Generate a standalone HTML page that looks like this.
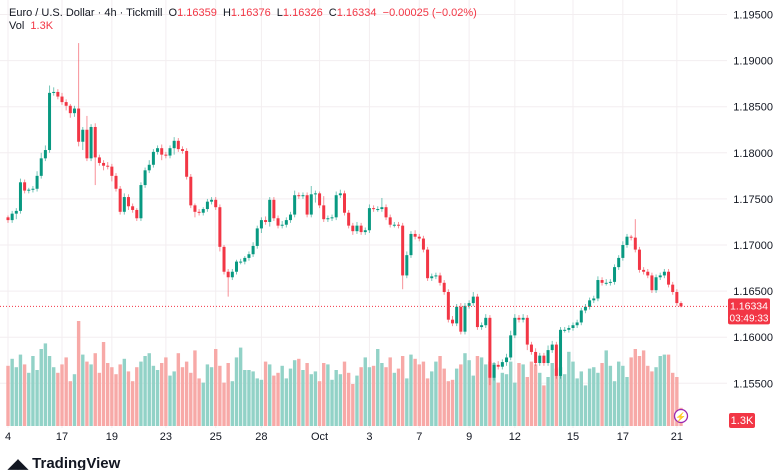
<!DOCTYPE html>
<html><head><meta charset="utf-8"><style>
body{margin:0;background:#fff;font-family:"Liberation Sans",sans-serif;}
#wrap{position:relative;width:780px;height:470px;overflow:hidden;background:#fff}
.t{position:absolute;font-size:11px;color:#131722;white-space:nowrap}
</style></head><body>
<div id="wrap">
<svg id="chart" width="780" height="470" style="position:absolute;left:0;top:0"></svg>
<div class="t" style="left:9px;top:7px">Euro / U.S. Dollar · 4h · Tickmill &nbsp;O<span style="color:#f23645">1.16359</span> &nbsp;H<span style="color:#f23645">1.16376</span> &nbsp;L<span style="color:#f23645">1.16326</span> &nbsp;C<span style="color:#f23645">1.16334</span> &nbsp;<span style="color:#f23645">−0.00025 (−0.02%)</span></div>
<div class="t" style="left:9px;top:20px">Vol &nbsp;<span style="color:#f23645">1.3K</span></div>
<div class="t" style="left:8px;top:455px;font-size:15px;font-weight:bold;color:#131722"><span style="font-size:13px">◢◣</span> TradingView</div>
</div>
<script>
const closes=[1.1727,1.1734,1.1737,1.1768,1.1759,1.1760,1.1761,1.1775,1.1794,1.1803,
1.1865,1.1866,1.1861,1.1855,1.1851,1.1843,1.1848,1.1812,1.1825,1.1794,
1.1828,1.1795,1.1789,1.1786,1.1785,1.1775,1.1761,1.1736,1.1752,1.1742,
1.1738,1.1729,1.1765,1.1781,1.1787,1.1801,1.1805,1.1798,1.1797,1.1805,
1.1813,1.1804,1.1802,1.1774,1.1743,1.1736,1.1735,1.1739,1.1747,1.1749,
1.1741,1.1698,1.1671,1.1665,1.1671,1.1682,1.1682,1.1686,1.1690,1.1699,
1.1718,1.1727,1.1725,1.1749,1.1729,1.1721,1.1722,1.1727,1.1733,1.1754,
1.1753,1.1754,1.1733,1.1755,1.1756,1.1743,1.1728,1.1729,1.1730,1.1754,
1.1756,1.1735,1.1721,1.1715,1.1721,1.1714,1.1716,1.1740,1.1739,1.1739,
1.1741,1.1730,1.1722,1.1722,1.1721,1.1667,1.1689,1.1712,1.1709,1.1707,
1.1695,1.1664,1.1666,1.1667,1.1659,1.1649,1.1619,1.1615,1.1633,1.1606,
1.1634,1.1637,1.1644,1.1611,1.1613,1.1621,1.1556,1.1570,1.1568,1.1573,
1.1578,1.1602,1.1621,1.1619,1.1621,1.1592,1.1584,1.1572,1.1580,1.1572,
1.1586,1.1592,1.1558,1.1608,1.1608,1.1610,1.1613,1.1616,1.1629,1.1633,
1.1640,1.1642,1.1662,1.1659,1.1659,1.1660,1.1676,1.1686,1.1700,1.1709,
1.1708,1.1695,1.1673,1.1671,1.1667,1.1651,1.1665,1.1667,1.1671,1.1657,
1.1649,1.1637,1.16334];
const firstOpen=1.1730;
const wickUp=[2,3,3,4,3,2,3,5,6,5, 8,5,3,4,3,2,3,71,3,15, 3,4,3,3,4,3,3,3,4,3, 3,2,3,3,5,3,3,4,3,3, 4,3,3,3,3,2,3,2,3,3, 3,3,2,3,3,2,3,2,3,4, 3,3,4,3,3,3,4,3,3,5, 3,3,3,9,3,2,10,3,3,4, 4,3,3,3,4,3,3,4,3,3, 10,3,3,3,3,3,4,3,4,3, 3,3,3,3,3,3,3,4,3,4, 3,3,5,3,3,4,3,3,4,3, 4,5,4,3,4,3,3,4,3,3, 5,4,3,3,3,3,3,3,3,3, 3,3,4,3,4,3,3,3,4,3, 2,20,3,3,3,3,3,3,3,3, 3,3,2];
const wickDn=[3,3,6,3,3,3,3,3,3,3, 3,3,3,3,5,5,4,5,9,3, 3,30,3,5,3,6,3,3,3,4, 3,3,3,3,3,3,3,6,3,3, 7,3,3,3,3,6,3,3,3,3, 3,5,3,21,3,3,3,3,3,3, 3,5,3,5,3,3,3,3,3,3, 3,3,3,3,9,3,3,3,3,3, 3,3,3,4,3,3,3,3,3,3, 3,3,3,3,3,15,3,3,3,3, 3,3,3,3,3,3,3,3,3,3, 3,3,3,3,3,3,8,3,3,3, 4,3,3,3,3,6,3,3,3,3, 3,3,3,3,3,3,3,3,3,3, 3,3,3,3,3,3,3,3,3,3, 3,3,3,3,3,3,3,3,3,3, 3,3,1];
const volumes=[4.3,4.8,4.2,5.1,4.4,3.8,5.0,4.0,5.5,5.9, 5.0,4.2,3.8,4.4,4.9,3.2,3.7,7.5,5.1,4.6, 4.4,5.2,3.8,6.0,4.5,4.2,3.7,4.4,4.8,3.9, 3.2,4.2,4.6,5.0,5.2,4.3,4.0,4.5,4.9,3.6, 3.9,5.2,4.2,4.6,3.8,5.4,3.4,3.1,4.4,4.2, 5.5,4.3,3.1,4.5,3.2,4.9,5.6,4.0,4.0,3.9, 3.4,3.3,4.6,4.4,3.6,3.8,4.3,3.4,4.1,4.7, 4.8,4.0,4.5,3.7,3.9,3.2,4.5,4.4,3.3,4.0, 3.7,4.6,3.8,3.0,3.6,4.2,4.9,4.2,4.3,5.5, 4.5,4.2,4.9,3.8,4.1,5.0,3.4,5.1,4.8,4.4, 4.6,3.4,3.9,4.6,5.0,4.1,3.2,3.3,4.1,4.4, 5.2,4.7,3.6,5.0,4.9,4.4,4.6,4.5,3.1,3.8, 3.7,4.6,3.1,4.5,4.4,3.5,4.6,4.4,3.8,2.9, 3.5,4.5,4.1,4.2,3.7,5.3,4.6,3.4,3.9,2.9, 4.1,4.2,3.8,4.5,5.4,4.3,3.2,4.6,4.3,3.5, 4.9,5.5,5.0,5.4,4.3,3.9,4.2,5.0,5.1,5.1, 3.8,3.5,1.3];
const priceTicks=[1.195,1.19,1.185,1.18,1.175,1.17,1.165,1.16,1.155];
const dateLabels=["4","17","19","23","25","28","Oct","3","7","9","12","15","17","21"];
const dateIndex=[0,13,25,38,50,61,75,87,99,111,122,136,148,161];

const svg=document.getElementById('chart');
const NS='http://www.w3.org/2000/svg';
const PW=727;
function yP(p){return 245-(p-1.17)*9220;}
function xI(i){return 8+i*(681-8)/(closes.length-1);}
function yV(v){return 426-v*14;}
function mk(tag,attrs){const e=document.createElementNS(NS,tag);for(const k in attrs)e.setAttribute(k,attrs[k]);svg.appendChild(e);return e;}

priceTicks.forEach(p=>{const l=mk('line',{x1:0,x2:PW,y1:yP(p),y2:yP(p),stroke:'#f3eef0','stroke-width':1});


const t=mk('text',{x:773,y:yP(p)+4,'text-anchor':'end','font-size':'11',fill:'#131722','font-family':'Liberation Sans, sans-serif'});t.textContent=p.toFixed(5);

});
dateIndex.forEach((idx,k)=>{const x=xI(idx);const l=mk('line',{x1:x,x2:x,y1:0,y2:428,stroke:'#f3eef0','stroke-width':1});


const t=mk('text',{x:x,y:440,'text-anchor':'middle','font-size':'11',fill:'#131722','font-family':'Liberation Sans, sans-serif'});t.textContent=dateLabels[k];

});

closes.forEach((c,i)=>{const o=i?closes[i-1]:firstOpen;const up=c>=o;const x=xI(i);
const r=mk('rect',{x:x-1.7,y:yV(volumes[i]),width:3.4,height:426-yV(volumes[i]),fill:up?'#92d2c7':'#f7a9a7'});

});

closes.forEach((c,i)=>{const o=i?closes[i-1]:firstOpen;const up=c>=o;const col=up?'#089981':'#f23645';const x=xI(i);
const hi=Math.max(o,c)+wickUp[i]*0.0001,lo=Math.min(o,c)-wickDn[i]*0.0001;
const w=mk('line',{x1:x,x2:x,y1:yP(hi),y2:yP(lo),stroke:col,'stroke-width':1,opacity:0.55});


const top=yP(Math.max(o,c)),bot=yP(Math.min(o,c));
const b=mk('rect',{x:x-1.5,y:top,width:3,height:Math.max(1,bot-top),fill:col});

});

const last=closes[closes.length-1];
const cl=mk('line',{x1:0,x2:728,y1:yP(last),y2:yP(last),stroke:'#f23645','stroke-width':1,'stroke-dasharray':'1,2'});


const box=mk('rect',{x:728,y:yP(last)-8,width:42,height:26,rx:2,fill:'#f23645'});


const t1=mk('text',{x:749,y:yP(last)+3,'text-anchor':'middle','font-size':'10.5',fill:'#fff','font-family':'Liberation Sans, sans-serif'});t1.textContent=last.toFixed(5);


const t2=mk('text',{x:749,y:yP(last)+15,'text-anchor':'middle','font-size':'10',fill:'#fff','font-family':'Liberation Sans, sans-serif'});t2.textContent='03:49:33';


const vb=mk('rect',{x:729,y:413,width:26,height:15,rx:2,fill:'#f23645'});


const vt=mk('text',{x:742,y:424,'text-anchor':'middle','font-size':'11',fill:'#fff','font-family':'Liberation Sans, sans-serif'});vt.textContent='1.3K';


const ic=mk('circle',{cx:681,cy:416,r:6.5,fill:'#fff',stroke:'#9c27b0','stroke-width':1.3});


const it=mk('text',{x:681,y:420,'text-anchor':'middle','font-size':'9',fill:'#9c27b0'});it.textContent='⚡';


</script>
</body></html>
